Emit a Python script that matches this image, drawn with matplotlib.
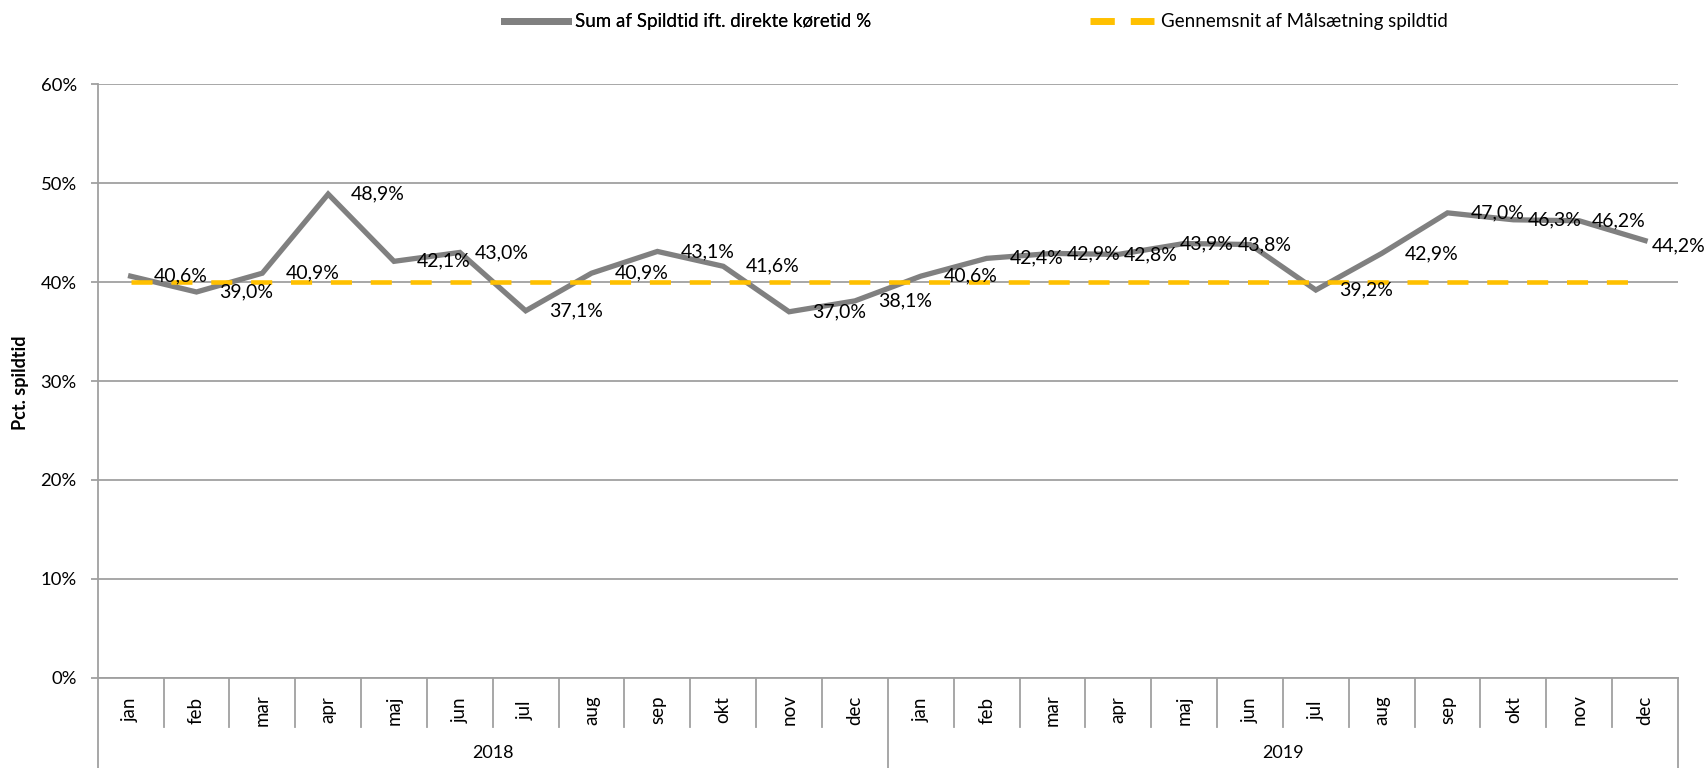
import matplotlib
matplotlib.use("Agg")
import matplotlib.pyplot as plt
from matplotlib.lines import Line2D
import matplotlib.transforms as mtransforms

plt.rcParams['font.family'] = ['Lato', 'DejaVu Sans']

years = ["2018", "2019"]
months = ["jan", "feb", "mar", "apr", "maj", "jun", "jul", "aug", "sep", "okt", "nov", "dec"]
spild_2018 = [40.6, 39.0, 40.9, 48.9, 42.1, 43.0, 37.1, 40.9, 43.1, 41.6, 37.0, 38.1]
spild_2019 = [40.6, 42.4, 42.9, 42.8, 43.9, 43.8, 39.2, 42.9, 47.0, 46.3, 46.2, 44.2]
maal = [40.0] * 24
series_names = ["Sum af Spildtid ift. direkte køretid %", "Gennemsnit af Målsætning spildtid"]
y_ticks = [0, 10, 20, 30, 40, 50, 60]

# label placement tweaks (pixels), mimicking the crowded label layout
label_dx_default = 23
label_dx = {5: 15, 14: 14, 15: 5, 16: -4, 17: -12, 21: 14, 22: 13, 23: 7}
label_dy = {23: -5}

values = spild_2018 + spild_2019
n = len(values)
xs = list(range(n))

W, H = 1708, 768
fig = plt.figure(figsize=(W / 100, H / 100), dpi=100)
ax_l, ax_r, ax_t, ax_b = 97.7, 1678, 84.3, 677.7
ax = fig.add_axes([ax_l / W, 1 - ax_b / H, (ax_r - ax_l) / W, (ax_b - ax_t) / H])

grey = "#808080"
gridc = "#A0A0A0"
yellow = "#FFC000"

ax.set_xlim(-0.5, n - 0.5)
ax.set_ylim(0, 60)
ax.set_yticks(y_ticks)
ax.set_yticklabels([f"{v}%" for v in y_ticks], fontsize=13.3)
ax.yaxis.grid(True, color=gridc, linewidth=1.3)
ax.set_axisbelow(True)
ax.tick_params(axis='y', length=5, width=1.3, color=gridc, pad=10)
ax.set_xticks([])
for s in ["top", "right"]:
    ax.spines[s].set_visible(False)
ax.spines["left"].set_color(gridc)
ax.spines["left"].set_linewidth(1.3)
ax.spines["bottom"].set_color(gridc)
ax.spines["bottom"].set_linewidth(1.3)

l1, = ax.plot(xs, values, color=grey, linewidth=3.8, solid_joinstyle='miter', zorder=3)
l2, = ax.plot(xs, maal, color=yellow, linewidth=3.3, linestyle=(0, (4.6, 4.1)),
              dash_capstyle='butt', zorder=4)

for i, (x, v) in enumerate(zip(xs, values)):
    dx = label_dx.get(i, label_dx_default)
    dy = label_dy.get(i, 0)
    ax.annotate(f"{v:.1f}%".replace(".", ","), (x, v), xytext=(dx, dy),
                textcoords='offset pixels', va='center', ha='left',
                fontsize=14, color='black', zorder=6)

# category axis
trans = mtransforms.blended_transform_factory(ax.transData, ax.transAxes)
axh = ax_b - ax_t
def ay(px):
    return (ax_b - px) / axh

for i in range(n + 1):
    xb = i - 0.5
    long_line = (i % 12 == 0)
    y1 = ay(768) if long_line else ay(727)
    ax.add_line(Line2D([xb, xb], [0, y1], transform=trans, color=gridc,
                       linewidth=1.3, clip_on=False))
for i, m in enumerate(months * 2):
    ax.text(i, ay(710), m, transform=trans, rotation=90, ha='center', va='center',
            fontsize=13.5)
for k, yr in enumerate(years):
    ax.text(k * 12 + 5.5, ay(753), yr, transform=trans, ha='center', va='center',
            fontsize=13)

fig.text(21 / W, 1 - 383 / H, "Pct. spildtid", rotation=90, ha='center', va='center',
         fontsize=13, fontweight='bold')

# legends
h1 = Line2D([], [], color=grey, linewidth=5)
h2 = Line2D([], [], color=yellow, linewidth=5, linestyle=(0, (3.5, 2.3)), dash_capstyle='butt')
leg1 = fig.legend([h1], [series_names[0]], loc='center left',
                  bbox_to_anchor=(504 / W, 1 - 22 / H), frameon=False,
                  prop={'size': 13.5, 'weight': 'normal'},
                  handlelength=3.4, handletextpad=0.4, borderpad=0, borderaxespad=0)
fig.add_artist(leg1)
leg2 = fig.legend([h2], [series_names[1]], loc='center left',
                  bbox_to_anchor=(1090 / W, 1 - 22 / H), frameon=False,
                  prop={'size': 13.5, 'weight': 'normal'},
                  handlelength=3.4, handletextpad=0.4, borderpad=0, borderaxespad=0)

fig.savefig("out.png", dpi=100)
